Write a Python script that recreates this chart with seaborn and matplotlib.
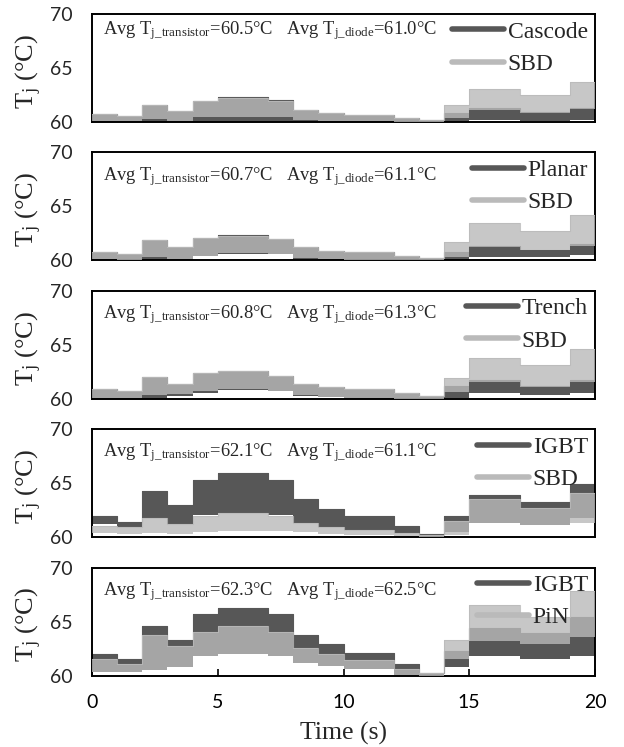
import numpy as np
import pandas as pd
import matplotlib
matplotlib.use("Agg")
import matplotlib.pyplot as plt
import seaborn as sns
from matplotlib.lines import Line2D

# ---------------- data ----------------
time_breaks = [0, 1, 2, 3, 4, 5, 7, 8, 9, 10, 12, 13, 14, 15, 17, 19, 20]

transistor_names = ["Cascode", "Planar", "Trench", "IGBT", "IGBT"]
diode_names = ["SBD", "SBD", "SBD", "SBD", "PiN"]
avg_transistor = [60.5, 60.7, 60.8, 62.1, 62.3]
avg_diode = [61.0, 61.1, 61.3, 61.1, 62.5]

# panel 1: Cascode + SBD
cascode_lo = [60.0, 60.0, 60.0, 60.0, 60.0, 60.0, 60.0, 60.0, 60.0, 60.0, 60.0, 60.0, 60.0, 60.2, 60.1, 60.2]
cascode_hi = [60.75, 60.6, 61.55, 61.0, 61.95, 62.3, 62.0, 61.1, 60.85, 60.65, 60.4, 60.2, 60.8, 61.3, 60.95, 61.3]
sbd1_lo = [60.1, 60.05, 60.3, 60.1, 60.5, 60.5, 60.5, 60.2, 60.1, 60.05, 60.0, 60.0, 60.4, 61.1, 60.85, 61.2]
sbd1_hi = [60.75, 60.6, 61.55, 61.0, 61.95, 62.2, 61.9, 61.1, 60.85, 60.65, 60.4, 60.2, 61.55, 63.05, 62.5, 63.7]

# panel 2: Planar + SBD
planar_lo = [60.0, 60.0, 60.0, 60.0, 60.4, 60.6, 60.55, 60.1, 60.05, 60.0, 60.0, 60.0, 60.0, 60.3, 60.3, 60.5]
planar_hi = [60.8, 60.6, 61.85, 61.2, 62.1, 62.35, 61.95, 61.2, 60.9, 60.75, 60.45, 60.25, 60.8, 61.3, 61.0, 61.5]
sbd2_lo = [60.1, 60.05, 60.3, 60.15, 60.45, 60.65, 60.6, 60.25, 60.1, 60.05, 60.0, 60.0, 60.35, 61.2, 60.95, 61.35]
sbd2_hi = [60.8, 60.6, 61.85, 61.2, 62.1, 62.3, 61.95, 61.2, 60.9, 60.75, 60.45, 60.25, 61.75, 63.45, 62.75, 64.2]

# panel 3: Trench + SBD
trench_lo = [60.0, 60.0, 60.0, 60.3, 60.55, 60.8, 60.7, 60.3, 60.15, 60.0, 60.0, 60.0, 60.1, 60.5, 60.35, 60.5]
trench_hi = [60.95, 60.75, 62.05, 61.35, 62.35, 62.55, 62.15, 61.35, 61.1, 60.9, 60.5, 60.25, 61.2, 61.7, 61.2, 61.75]
sbd3_lo = [60.1, 60.05, 60.35, 60.4, 60.7, 60.9, 60.75, 60.35, 60.2, 60.1, 60.0, 60.0, 60.65, 61.6, 61.1, 61.6]
sbd3_hi = [60.95, 60.75, 62.05, 61.35, 62.35, 62.55, 62.15, 61.35, 61.1, 60.9, 60.5, 60.25, 61.9, 63.8, 63.1, 64.65]

# panel 4: IGBT + SBD
igbt4_lo = [61.2, 60.9, 61.8, 61.2, 62.1, 62.2, 62.1, 61.3, 60.9, 60.7, 60.4, 60.0, 60.5, 61.3, 61.1, 61.8]
igbt4_hi = [62.0, 61.4, 64.3, 63.0, 65.3, 65.95, 65.3, 63.5, 62.6, 62.0, 61.0, 60.3, 62.0, 63.9, 63.3, 64.9]
sbd4_lo = [60.4, 60.3, 60.4, 60.3, 60.5, 60.6, 60.6, 60.5, 60.3, 60.2, 60.1, 60.0, 60.2, 61.3, 61.1, 61.3]
sbd4_hi = [61.0, 60.9, 61.8, 61.2, 62.0, 62.2, 62.0, 61.3, 60.9, 60.7, 60.4, 60.2, 61.5, 63.5, 62.7, 64.1]

# panel 5: IGBT + PiN
igbt5_lo = [60.3, 60.3, 60.5, 60.8, 61.8, 62.0, 61.8, 61.2, 60.9, 60.6, 60.1, 60.0, 60.8, 61.8, 61.5, 61.8]
igbt5_hi = [62.0, 61.5, 64.6, 63.3, 65.7, 66.3, 65.7, 63.8, 62.9, 62.1, 61.1, 60.2, 62.3, 64.4, 63.9, 65.4]
pin_lo = [60.3, 60.3, 60.5, 60.8, 61.8, 62.0, 61.8, 61.2, 60.9, 60.6, 60.1, 60.0, 61.5, 63.2, 62.9, 63.6]
pin_hi = [61.5, 61.1, 63.8, 62.7, 64.0, 64.6, 64.0, 62.6, 62.0, 61.4, 60.6, 60.2, 63.3, 66.5, 65.4, 67.8]

transistor_bands = [(cascode_lo, cascode_hi), (planar_lo, planar_hi), (trench_lo, trench_hi),
                    (igbt4_lo, igbt4_hi), (igbt5_lo, igbt5_hi)]
diode_bands = [(sbd1_lo, sbd1_hi), (sbd2_lo, sbd2_hi), (sbd3_lo, sbd3_hi),
               (sbd4_lo, sbd4_hi), (pin_lo, pin_hi)]

y_ticks = [60, 65, 70]
x_ticks = [0, 5, 10, 15, 20]

# ---------------- style ----------------
sns.set_theme(style="white")
plt.rcParams.update({
    "font.family": ["Liberation Serif", "DejaVu Serif"],
    "mathtext.fontset": "custom",
    "mathtext.rm": "Liberation Serif",
    "mathtext.it": "Liberation Serif:italic",
    "mathtext.bf": "Liberation Serif:bold",
    "axes.edgecolor": "black",
    "axes.linewidth": 1.4,
})

DARK = "#575757"
LIGHT = "#bababa"
LIGHT_ALPHA = 0.8

fig = plt.figure(figsize=(6.24, 7.47), dpi=100)
W, H = 624.0, 747.0
left_px, right_px = 92.0, 595.0
top0, step_px, h_px = 14.0, 138.4, 108.0

def step_vals(v):
    return list(v) + [v[-1]]

tick_font = dict(family="Lato", size=14)

for i in range(5):
    top = top0 + step_px * i
    ax = fig.add_axes([left_px / W, 1 - (top + h_px) / H, (right_px - left_px) / W, h_px / H])
    t_lo, t_hi = transistor_bands[i]
    d_lo, d_hi = diode_bands[i]
    df = pd.DataFrame({
        "time": time_breaks,
        "t_lo": step_vals(t_lo), "t_hi": step_vals(t_hi),
        "d_lo": step_vals(d_lo), "d_hi": step_vals(d_hi),
    })
    # transistor band
    ax.fill_between(df["time"], df["t_lo"], df["t_hi"], step="post", color=DARK, lw=0, zorder=2)
    sns.lineplot(data=df, x="time", y="t_hi", drawstyle="steps-post", color=DARK, lw=0.8, ax=ax, zorder=2)
    # diode band
    ax.fill_between(df["time"], df["d_lo"], df["d_hi"], step="post", color=LIGHT, alpha=LIGHT_ALPHA, lw=0, zorder=3)
    sns.lineplot(data=df, x="time", y="d_hi", drawstyle="steps-post", color=LIGHT, alpha=LIGHT_ALPHA, lw=0.8, ax=ax, zorder=3)

    ax.set_xlim(0, 20)
    ax.set_ylim(60, 70)
    ax.set_yticks(y_ticks)
    ax.set_yticklabels([str(v) for v in y_ticks], fontdict=tick_font)
    ax.tick_params(axis="y", length=0, pad=14)
    ax.set_ylabel(r"T$_{\mathrm{j}}$ (°C)", fontsize=19)
    ax.yaxis.set_label_coords(-0.095, 0.47)
    ax.set_xticks(x_ticks)
    if i == 4:
        ax.set_xticklabels([str(v) for v in x_ticks], fontdict=tick_font)
        ax.tick_params(axis="x", direction="in", length=5, width=1.2, pad=13, bottom=True, colors="black")
        ax.set_xlabel("Time (s)", fontsize=18.5, labelpad=8)
    else:
        ax.set_xticklabels([])
        ax.tick_params(axis="x", length=0)
        ax.set_xlabel("")
    for s in ax.spines.values():
        s.set_visible(True)
        s.set_color("black")
        s.set_linewidth(1.4)

    ytxt = 0.85 if i == 0 else 0.78
    ax.text(0.022, ytxt,
            f"Avg T$_{{\\mathrm{{j\\_transistor}}}}$={avg_transistor[i]:.1f}°C   "
            f"Avg T$_{{\\mathrm{{j\\_diode}}}}$={avg_diode[i]:.1f}°C",
            transform=ax.transAxes, fontsize=13.3, va="center", ha="left", zorder=5)

    handles = [Line2D([0], [0], color=DARK, lw=4), Line2D([0], [0], color=LIGHT, lw=4)]
    ax.legend(handles, [transistor_names[i], diode_names[i]], loc="upper right",
              frameon=False, fontsize=17, handlelength=2.2, handletextpad=0.15,
              borderpad=0.15, borderaxespad=0.15, labelspacing=0.45)

fig.savefig("out.png", dpi=100)
